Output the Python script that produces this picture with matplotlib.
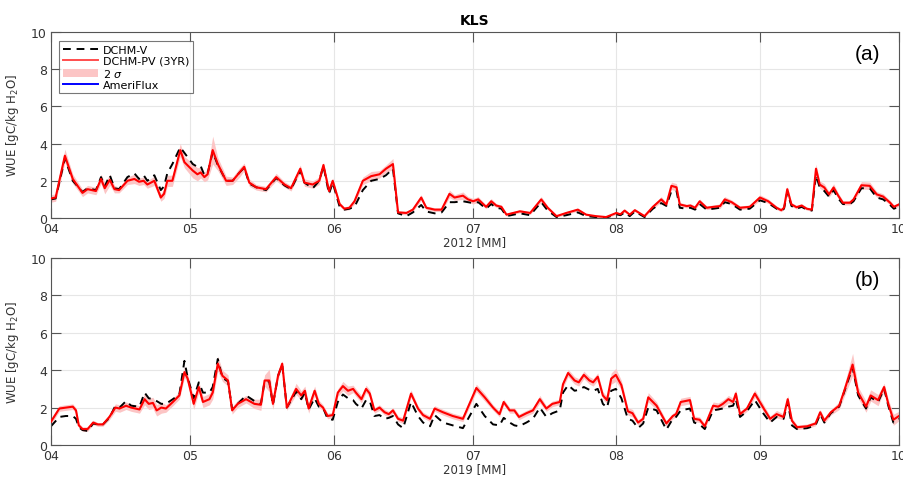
import numpy as np
import matplotlib
matplotlib.use('Agg')
import matplotlib.pyplot as plt
from matplotlib.patches import Patch
from matplotlib.lines import Line2D

# days since 1 April, WUE in gC/kg H2O
days_2012 = [0, 1, 3, 4.7, 6.8, 7.9, 9.7, 10.8, 11.6, 12.7, 13.7, 14.7, 16.5, 18, 19, 20, 20.8, 22.3,
             23.7, 24.4, 25.1, 26.2, 27.9, 28.8, 30.6, 31.6, 32.3, 33.1, 33.8, 34.9, 36, 37.8, 39.2,
             40.7, 41.7, 42.8, 44.3, 46.4, 48.6, 50.4, 51.8, 53.8, 54.7, 56.5, 57.9, 58.8, 60, 60.8,
             62.3, 63.3, 64.4, 65.5, 67.3, 69.1, 70.9, 72.3, 73.8, 74.9, 76.7, 78.1, 79.9, 81, 82.8,
             84.3, 86, 87.1, 88.9, 90, 91.1, 92.2, 93.9, 95, 96.1, 97.2, 98.3, 101.2, 103.4, 105.8,
             107.2, 109.1, 111.2, 113.7, 115.5, 117.6, 119.8, 122, 122.9, 123.8, 124.9, 126, 128.1,
             129.9, 131.7, 132.8, 133.9, 135, 135.7, 137.2, 138, 139, 140, 141.5, 143, 144.4, 145.4,
             146.9, 148.7, 150.8, 153, 154.8, 156.6, 157.6, 158.2, 158.9, 159.8, 160.9, 162, 163.1,
             164.2, 165.1, 165.9, 166.9, 167.9, 168.9, 169.9, 170.9, 172.4, 173.2, 174.9, 176.7,
             178.2, 179.6, 181.1, 181.9, 183]
pv_2012 = [1.05, 1.1, 3.35, 2.1, 1.35, 1.55, 1.45, 2.1, 1.6, 2.05, 1.55, 1.5, 2.0, 2.1, 1.95, 2.0, 1.8, 2.0,
           1.1, 1.3, 2.0, 2.0, 3.65, 3.0, 2.55, 2.35, 2.45, 2.2, 2.35, 3.65, 2.9, 2.0, 2.0,
           2.45, 2.75, 1.9, 1.65, 1.55, 2.2, 1.8, 1.6, 2.65, 1.9, 1.8, 2.0, 2.85, 1.45, 2.0,
           0.75, 0.5, 0.55, 0.9, 2.0, 2.25, 2.35, 2.65, 2.9, 0.3, 0.27, 0.45, 1.1, 0.55, 0.45,
           0.45, 1.3, 1.1, 1.2, 1.0, 0.9, 1.0, 0.6, 0.9, 0.67, 0.6, 0.18, 0.36, 0.27, 1.0,
           0.55, 0.1, 0.27, 0.45, 0.18, 0.1, 0.05, 0.27, 0.2, 0.4, 0.18, 0.42, 0.1,
           0.6, 1.0, 0.73, 1.73, 1.65, 0.73, 0.64, 0.67, 0.55, 0.9, 0.55, 0.6, 0.64, 1.0,
           0.85, 0.55, 0.6, 1.1, 0.9, 0.55, 0.42, 0.55, 1.55, 0.73, 0.58, 0.67, 0.5,
           0.45, 2.65, 1.8, 1.64, 1.27, 1.64, 1.2, 0.82, 0.82, 1.0, 1.76, 1.73,
           1.27, 1.15, 0.82, 0.6, 0.73]
v_2012 = [1.0, 1.05, 3.2, 2.0, 1.4, 1.6, 1.5, 2.2, 1.7, 2.3, 1.6, 1.55, 2.2, 2.4, 2.1, 2.3, 2.0, 2.3,
          1.5, 1.7, 2.4, 2.9, 3.8, 3.5, 2.9, 2.75, 2.8, 2.3, 2.4, 3.55, 2.85, 2.0, 2.0,
          2.45, 2.7, 1.85, 1.65, 1.5, 2.15, 1.75, 1.55, 2.55, 1.9, 1.6, 2.0, 2.8, 1.3, 1.9,
          0.6, 0.45, 0.5, 0.6, 1.5, 2.0, 2.1, 2.3, 2.65, 0.25, 0.1, 0.3, 0.7, 0.35, 0.25,
          0.3, 0.85, 0.85, 0.9, 0.85, 0.8, 0.85, 0.5, 0.75, 0.55, 0.5, 0.1, 0.25, 0.15, 0.85,
          0.4, 0.05, 0.15, 0.3, 0.1, 0.05, 0.02, 0.2, 0.15, 0.3, 0.1, 0.35, 0.05,
          0.5, 0.8, 0.65, 1.45, 1.45, 0.55, 0.5, 0.55, 0.45, 0.75, 0.45, 0.5, 0.55, 0.85,
          0.75, 0.45, 0.5, 0.95, 0.8, 0.5, 0.4, 0.5, 1.4, 0.65, 0.5, 0.6, 0.45,
          0.4, 2.3, 1.65, 1.45, 1.15, 1.5, 1.05, 0.75, 0.75, 0.9, 1.6, 1.6,
          1.1, 1.0, 0.7, 0.5, 0.6]
sig_2012 = [0.2, 0.2, 0.35, 0.25, 0.2, 0.2, 0.2, 0.25, 0.3, 0.3, 0.2, 0.15, 0.2, 0.25, 0.2, 0.2, 0.2, 0.25,
            0.2, 0.25, 0.3, 0.3, 0.35, 0.3, 0.4, 0.35, 0.3, 0.25, 0.3, 0.75, 0.35, 0.25, 0.2,
            0.25, 0.2, 0.2, 0.15, 0.15, 0.2, 0.15, 0.15, 0.2, 0.2, 0.2, 0.2, 0.15, 0.15, 0.15,
            0.1, 0.1, 0.1, 0.15, 0.2, 0.25, 0.2, 0.2, 0.3, 0.1, 0.1, 0.1, 0.15, 0.1, 0.1,
            0.1, 0.2, 0.15, 0.2, 0.15, 0.15, 0.15, 0.1, 0.15, 0.1, 0.1, 0.08, 0.08, 0.08, 0.15,
            0.1, 0.05, 0.08, 0.08, 0.05, 0.05, 0.05, 0.08, 0.06, 0.08, 0.06, 0.08, 0.05,
            0.1, 0.15, 0.1, 0.2, 0.2, 0.1, 0.1, 0.1, 0.1, 0.12, 0.1, 0.1, 0.12, 0.15,
            0.12, 0.1, 0.1, 0.15, 0.12, 0.1, 0.08, 0.08, 0.15, 0.1, 0.1, 0.1, 0.08,
            0.08, 0.25, 0.2, 0.2, 0.15, 0.2, 0.15, 0.12, 0.12, 0.12, 0.2, 0.2,
            0.15, 0.15, 0.12, 0.1, 0.1]

days_2019 = [0, 1.8, 3.2, 4.7, 5.4, 6, 6.8, 7.9, 9.1, 10.1, 11.2, 12.6, 13.9, 14.8, 16.2, 17.3, 19.1,
             20.2, 21.1, 22, 22.8, 23.8, 24.8, 26.3, 27.7, 28.8, 29.5, 30.8, 31.9, 32.8, 34.2, 34.9,
             36, 37, 38.2, 39.1, 40.3, 42.1, 43.9, 45.3, 46.1, 47.1, 47.9, 49, 49.9, 50.9, 52.9,
             54, 54.8, 55.6, 56.9, 57.8, 58.7, 59.7, 60.8, 61.9, 63, 64.1, 65.2, 65.8, 67, 68,
             68.8, 69.8, 70.9, 72, 72.9, 73.8, 74.9, 76, 77.7, 79.2, 80.3, 81.8, 82.8, 84.6, 86.7,
             88.9, 91.8, 93.6, 95.4, 96.8, 97.7, 99, 100, 101, 102.6, 104, 105.5, 106.9, 108.2,
             109.8, 110.5, 111.6, 113, 113.9, 115, 116.2, 117, 118, 119.1, 120, 120.9, 121.9,
             123.1, 124.5, 125.5, 126.7, 127.8, 128.9, 130.7, 132.8, 134.2, 134.9, 135.9, 137.9,
             138.8, 140, 141.1, 142.9, 144, 145, 146.2, 147.2, 147.8, 148.7, 150.2, 151.9, 153.7,
             155.2, 156.6, 158.1, 159, 159.9, 161, 163.2, 165, 166, 166.9, 168.3, 170.1, 171.2,
             173, 174.2, 175.9, 176.9, 178.5, 179.8, 180.7, 181.8, 183]
pv_2019 = [1.25, 1.95, 2.0, 2.05, 1.85, 1.05, 0.85, 0.85, 1.2, 1.1, 1.1, 1.5, 2.0, 1.95, 2.1, 2.0, 1.9,
           2.45, 2.2, 2.25, 1.85, 2.0, 1.95, 2.3, 2.65, 3.9, 3.55, 2.2, 3.1, 2.3, 2.45, 2.8,
           4.35, 3.7, 3.45, 1.85, 2.2, 2.45, 2.2, 2.15, 3.45, 3.45, 2.2, 3.7, 4.35, 2.0, 3.0,
           2.65, 2.9, 1.95, 2.9, 2.2, 2.0, 1.55, 1.6, 2.8, 3.15, 2.9, 3.0, 2.8, 2.45, 3.0,
           2.75, 1.85, 2.0, 1.75, 1.65, 1.85, 1.4, 1.3, 2.75, 1.95, 1.6, 1.4, 1.95, 1.75, 1.55,
           1.4, 3.05, 2.55, 2.0, 1.65, 2.3, 1.85, 1.85, 1.5, 1.7, 1.85, 2.45, 1.95, 2.2,
           2.3, 3.25, 3.85, 3.45, 3.35, 3.75, 3.45, 3.35, 3.65, 2.65, 2.4, 3.55, 3.75,
           3.2, 1.8, 1.7, 1.2, 1.4, 2.55, 2.1, 1.15, 1.55, 1.65, 2.3, 2.4,
           1.4, 1.35, 1.0, 2.1, 2.05, 2.2, 2.45, 2.3, 2.75, 1.65, 1.95, 2.75, 2.0,
           1.4, 1.65, 1.5, 2.45, 1.3, 0.95, 1.0, 1.15, 1.75, 1.3, 1.75, 2.1, 2.9,
           4.3, 2.8, 2.05, 2.65, 2.4, 3.1, 2.2, 1.35, 1.55]
v_2019 = [1.0, 1.5, 1.55, 1.55, 1.4, 0.95, 0.8, 0.75, 1.15, 1.1, 1.1, 1.45, 2.1, 2.0, 2.35, 2.1, 2.05,
          2.8, 2.5, 2.45, 2.35, 2.2, 2.2, 2.45, 2.7, 4.5, 3.6, 2.5, 3.35, 2.8, 2.8, 3.1,
          4.6, 3.6, 3.4, 1.9, 2.2, 2.65, 2.35, 2.2, 3.4, 3.4, 2.15, 3.7, 4.3, 2.0, 2.85,
          2.45, 2.8, 1.9, 2.5, 2.05, 2.0, 1.4, 1.35, 2.3, 2.7, 2.5, 2.4, 2.2, 1.95, 2.4,
          2.35, 1.55, 1.6, 1.4, 1.45, 1.55, 1.1, 0.9, 2.3, 1.55, 1.2, 1.0, 1.6, 1.2, 1.05,
          0.9, 2.2, 1.55, 1.1, 1.05, 1.45, 1.2, 1.05, 1.0, 1.2, 1.4, 2.0, 1.5, 1.7,
          1.85, 2.8, 3.2, 2.9, 2.95, 3.1, 2.95, 2.9, 3.0, 2.2, 2.0, 2.9, 3.0,
          2.5, 1.4, 1.3, 0.9, 1.15, 2.0, 1.85, 0.82, 1.4, 1.5, 1.85, 1.95,
          1.2, 1.1, 0.85, 1.85, 1.9, 1.95, 2.05, 2.1, 2.45, 1.5, 1.8, 2.4, 1.7,
          1.2, 1.5, 1.4, 2.3, 1.05, 0.85, 0.9, 1.05, 1.65, 1.2, 1.7, 2.05, 2.85,
          4.15, 2.65, 1.95, 2.55, 2.3, 3.0, 2.1, 1.2, 1.4]
sig_2019 = [0.15, 0.15, 0.15, 0.15, 0.15, 0.12, 0.12, 0.12, 0.12, 0.1, 0.1, 0.15, 0.2, 0.2, 0.2, 0.2, 0.2,
            0.3, 0.3, 0.3, 0.3, 0.3, 0.2, 0.2, 0.2, 0.3, 0.25, 0.3, 0.3, 0.3, 0.3, 0.35,
            0.4, 0.3, 0.3, 0.2, 0.2, 0.2, 0.25, 0.3, 0.3, 0.6, 0.3, 0.2, 0.15, 0.15, 0.3,
            0.25, 0.25, 0.25, 0.25, 0.2, 0.15, 0.15, 0.15, 0.2, 0.25, 0.25, 0.2, 0.2, 0.2, 0.2,
            0.2, 0.15, 0.15, 0.15, 0.15, 0.15, 0.15, 0.15, 0.2, 0.15, 0.15, 0.15, 0.15, 0.15, 0.15,
            0.15, 0.2, 0.2, 0.15, 0.15, 0.15, 0.15, 0.15, 0.15, 0.15, 0.15, 0.2, 0.15, 0.15,
            0.15, 0.2, 0.2, 0.2, 0.2, 0.2, 0.2, 0.2, 0.2, 0.2, 0.2, 0.3, 0.35,
            0.25, 0.2, 0.2, 0.15, 0.15, 0.25, 0.2, 0.15, 0.15, 0.15, 0.2, 0.2,
            0.15, 0.15, 0.15, 0.2, 0.2, 0.2, 0.2, 0.2, 0.2, 0.15, 0.15, 0.2, 0.2,
            0.15, 0.2, 0.15, 0.2, 0.15, 0.12, 0.12, 0.12, 0.15, 0.15, 0.15, 0.2, 0.3,
            0.6, 0.3, 0.3, 0.3, 0.3, 0.2, 0.25, 0.3, 0.25]

month_days = [0, 30, 61, 91, 122, 153, 183]
month_labels = ['04', '05', '06', '07', '08', '09', '10']

band_col = '#fcc5c5'
ax_col = '#555555'
txt_col = '#333333'

fig = plt.figure(figsize=(9.04, 4.81), dpi=100)
ax1 = fig.add_axes([0.0564, 0.5447, 0.938, 0.3867])
ax2 = fig.add_axes([0.0564, 0.0728, 0.938, 0.3887])

panels = [(ax1, days_2012, pv_2012, v_2012, sig_2012, '2012 [MM]', '(a)'),
          (ax2, days_2019, pv_2019, v_2019, sig_2019, '2019 [MM]', '(b)')]

for ax, d, pv, v, s, xl, tag in panels:
    d = np.array(d); pv = np.array(pv); v = np.array(v); s = np.array(s)
    ax.fill_between(d, pv - s, pv + s, color=band_col, lw=0, zorder=1)
    ax.plot(d, v, color='k', ls=(0, (4, 3)), lw=1.4, zorder=2)
    ax.plot(d, pv, color='red', lw=1.5, zorder=3)
    ax.set_xlim(0, 183)
    ax.set_ylim(0, 10)
    ax.set_xticks(month_days)
    ax.set_xticklabels(month_labels)
    ax.set_yticks([0, 2, 4, 6, 8, 10])
    ax.grid(True, color='#e6e6e6', lw=0.8)
    ax.set_axisbelow(True)
    ax.tick_params(direction='in', length=7, top=True, right=True, labelsize=9,
                   colors=ax_col, labelcolor=txt_col, pad=3)
    for sp in ax.spines.values():
        sp.set_color(ax_col)
        sp.set_linewidth(0.8)
    ax.set_xlabel(xl, fontsize=8.5, color=txt_col, labelpad=0)
    ax.set_ylabel('WUE [gC/kg H$_2$O]', fontsize=8.5, color=txt_col, labelpad=7)
    ax.text(0.978, 0.935, tag, transform=ax.transAxes, ha='right', va='top', fontsize=15,
            family='Liberation Sans')

ax1.set_title('KLS', fontsize=10, fontweight='bold', pad=6)

handles = [Line2D([], [], color='k', ls=(0, (4, 3)), lw=1.4),
           Line2D([], [], color='#ff4d4d', lw=1.4),
           Patch(facecolor=band_col, edgecolor='none'),
           Line2D([], [], color='blue', lw=1.4)]
leg = ax1.legend(handles, ['DCHM-V', 'DCHM-PV (3YR)', '2 $\\sigma$', 'AmeriFlux'],
                 loc='upper left', bbox_to_anchor=(0.01, 0.95), fontsize=8, frameon=True,
                 fancybox=False, borderpad=0.3, labelspacing=0.1, handlelength=3.2,
                 handletextpad=0.4, borderaxespad=0)
leg.get_frame().set_edgecolor(ax_col)
leg.get_frame().set_linewidth(0.8)

fig.savefig('out.png', dpi=100)
